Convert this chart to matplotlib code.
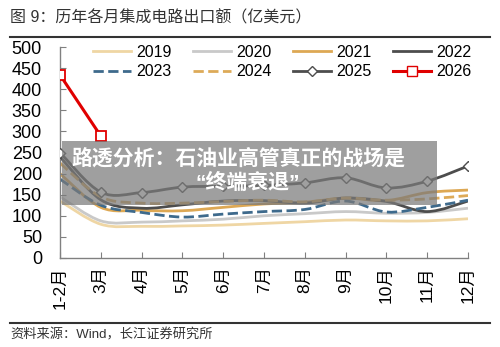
import numpy as np
import matplotlib
matplotlib.use("Agg")
import matplotlib.pyplot as plt
from matplotlib.path import Path
from matplotlib.patches import PathPatch, Rectangle
from matplotlib.lines import Line2D

plt.rcParams['font.family'] = ['Liberation Sans', 'Noto Sans CJK SC']

months = ['1-2月', '3月', '4月', '5月', '6月', '7月', '8月', '9月', '10月', '11月', '12月']

# values (亿美元)
y2019 = [135, 80, 75, 76, 78, 82, 86, 90, 88, 88, 93]
y2020 = [145, 88, 85, 88, 92, 100, 105, 110, 106, 108, 118]
y2021 = [200, 120, 113, 112, 120, 128, 132, 142, 136, 155, 161]
y2022 = [240, 138, 118, 126, 135, 136, 130, 142, 134, 110, 135]
y2023 = [187, 125, 108, 97, 104, 110, 115, 135, 109, 120, 137]
y2024 = [225, 145, 130, 130, 134, 137, 133, 142, 137, 140, 148]
y2025 = [250, 156, 155, 168, 170, 172, 178, 190, 166, 182, 218]
y2026 = [434, 289]

series = [
    ('2019', y2019, '#EFD6A4', '-'),
    ('2020', y2020, '#C9C9C9', '-'),
    ('2021', y2021, '#DDA854', '-'),
    ('2022', y2022, '#4D4D4D', '-'),
    ('2023', y2023, '#3E6A8C', '--'),
    ('2024', y2024, '#DDAA58', '--'),
]


def smooth(x, y):
    # catmull-rom style bezier through the points (excel "smoothed line")
    x = np.asarray(x, float)
    y = np.asarray(y, float)
    verts = [(x[0], y[0])]
    codes = [Path.MOVETO]
    n = len(x)
    for i in range(n - 1):
        p0 = (x[max(i - 1, 0)], y[max(i - 1, 0)])
        p1 = (x[i], y[i])
        p2 = (x[i + 1], y[i + 1])
        p3 = (x[min(i + 2, n - 1)], y[min(i + 2, n - 1)])
        c1 = (p1[0] + (p2[0] - p0[0]) / 6, p1[1] + (p2[1] - p0[1]) / 6)
        c2 = (p2[0] - (p3[0] - p1[0]) / 6, p2[1] - (p3[1] - p1[1]) / 6)
        verts += [c1, c2, p2]
        codes += [Path.CURVE4] * 3
    return Path(verts, codes)


fig = plt.figure(figsize=(5, 3.47), dpi=100)
ax = fig.add_axes([0.12, 0.2565, 0.816, 0.608])

xs = np.arange(len(months))
handles = []
for name, vals, col, ls in series:
    ax.add_patch(PathPatch(smooth(xs, vals), fill=False, edgecolor=col,
                           lw=2.0, linestyle=ls, capstyle='butt'))
    handles.append(Line2D([], [], color=col, lw=2.0, linestyle=ls, label=name))

ax.add_patch(PathPatch(smooth(xs, y2025), fill=False, edgecolor='#4D4D4D', lw=2.0))
ax.plot(xs, y2025, linestyle='none', marker='D', ms=5, mfc='white',
        mec='#4D4D4D', mew=1.0, zorder=5)
handles.append(Line2D([], [], color='#4D4D4D', lw=2.0, marker='D', ms=5,
                      mfc='white', mec='#4D4D4D', label='2025'))

ax.plot(xs[:len(y2026)], y2026, color='#E00000', lw=2.2, marker='s', ms=7,
        mfc='white', mec='#E00000', mew=1.3, zorder=6)
handles.append(Line2D([], [], color='#E00000', lw=2.2, marker='s', ms=7,
                      mfc='white', mec='#E00000', label='2026'))

ax.set_xlim(0, len(months) - 1)
ax.set_ylim(0, 500)
ax.set_yticks(np.arange(0, 501, 50))
ax.set_xticks(xs)
ax.set_xticklabels(months, rotation=90, fontsize=12.5)
ax.tick_params(axis='y', labelsize=13, direction='in', length=4, color='#808080', pad=13)
ax.tick_params(axis='x', direction='in', length=4, color='#808080', pad=6)
for s in ['top', 'right']:
    ax.spines[s].set_visible(False)
for s in ['left', 'bottom']:
    ax.spines[s].set_color('#808080')
    ax.spines[s].set_linewidth(1.0)

# legend: 2 rows x 4 cols, row-major
order = [0, 4, 1, 5, 2, 6, 3, 7]
ax.legend([handles[i] for i in order], [handles[i].get_label() for i in order],
          ncol=4, loc='upper left', bbox_to_anchor=(0.045, 1.08), frameon=False,
          fontsize=11.5, handlelength=2.4, columnspacing=1.35, handletextpad=0.3,
          labelspacing=0.3)

# title, rules and source
fig.text(0.02, 0.948, '图 9：历年各月集成电路出口额（亿美元）', fontsize=11.5, color='#333333',
         va='center')
fig.add_artist(Line2D([0.02, 0.98], [0.893, 0.893], color='#333333', lw=1.5))
fig.add_artist(Line2D([0.02, 0.98], [0.069, 0.069], color='#333333', lw=1.5))
fig.text(0.02, 0.034, '资料来源：Wind，长江证券研究所', fontsize=9.5, color='#333333', va='center')

# news overlay banner
fig.add_artist(Rectangle((0.124, 0.409), 0.75, 0.185, transform=fig.transFigure,
                         facecolor='#7a7a7a', alpha=0.72, edgecolor='none', zorder=10))
fig.text(0.477, 0.545, '路透分析：石油业高管真正的战场是', fontsize=15, color='white',
         fontweight='bold', ha='center', va='center', zorder=11)
fig.text(0.495, 0.472, '“终端衰退”', fontsize=15, color='white',
         fontweight='bold', ha='center', va='center', zorder=11)

fig.savefig('out.png', dpi=100)
